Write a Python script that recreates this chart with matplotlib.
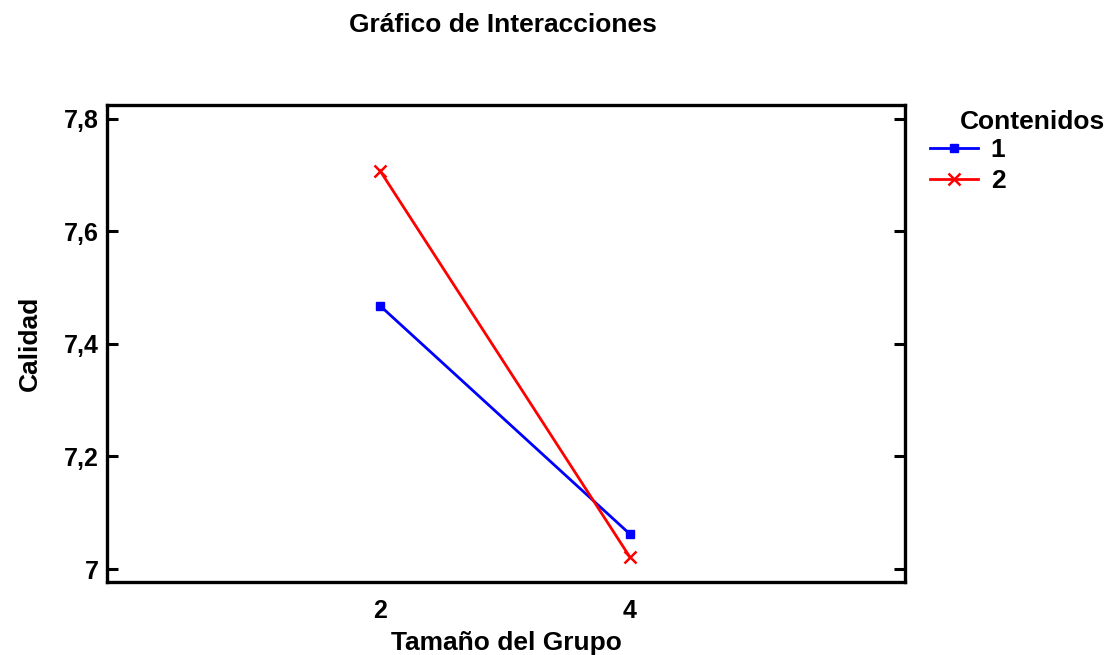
import matplotlib.pyplot as plt
from matplotlib.ticker import FuncFormatter

plt.rcParams['font.family'] = ['Liberation Sans', 'DejaVu Sans']
plt.rcParams['font.weight'] = 'bold'

# data
grupo = ["2", "4"]
contenido_1 = [7.468, 7.062]
contenido_2 = [7.708, 7.021]
yticks = [7.0, 7.2, 7.4, 7.6, 7.8]

W, H = 1109, 655
fig = plt.figure(figsize=(11.09, 6.55), dpi=100)
ax = fig.add_axes([0.0965, 0.1115, 0.7195, 0.7285])

xs = [2, 4]
ax.plot(xs, contenido_1, color="#0000ff", lw=2, marker="s", ms=6, label="1")
ax.plot(xs, contenido_2, color="#ff0000", lw=2, marker="x", ms=8, mew=1.8, label="2")

ax.set_xlim(-0.184, 6.2)
ax.set_ylim(6.977, 7.825)
ax.set_xticks(xs)
ax.set_xticklabels(grupo)
ax.set_yticks(yticks)
ax.yaxis.set_major_formatter(FuncFormatter(
    lambda v, p: "7" if abs(v - 7) < 1e-9 else f"{v:.1f}".replace(".", ",")))

ax.tick_params(axis="x", length=0, pad=12, labelsize=18)
ax.tick_params(axis="y", direction="in", length=8, width=2.2, right=True,
               labelsize=18, pad=6)
for s in ax.spines.values():
    s.set_linewidth(2.4)

ax.set_xlabel("Tamaño del Grupo", fontsize=19, fontweight="bold", labelpad=6)
ax.set_ylabel("Calidad", fontsize=19, fontweight="bold", labelpad=16)
fig.text(503 / W, 1 - 25 / H, "Gráfico de Interacciones", ha="center", va="center",
         fontsize=19, fontweight="bold")

fig.text(1105 / W, 1 - 122 / H, "Contenidos", ha="right", va="center",
         fontsize=19, fontweight="bold")
fig.legend(loc="upper left", bbox_to_anchor=(930 / W, 1 - 138 / H),
           frameon=False, fontsize=19, handlelength=1.8, handletextpad=0.5,
           labelspacing=0.28, borderpad=0, borderaxespad=0)

fig.savefig("out.png", dpi=100)
